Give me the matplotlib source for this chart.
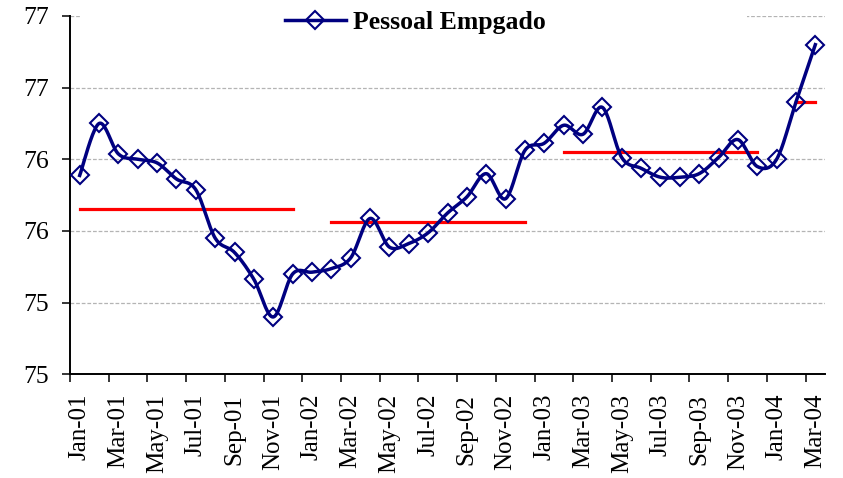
import matplotlib
matplotlib.use('Agg')

import matplotlib.pyplot as plt
from matplotlib.lines import Line2D
from matplotlib.patches import Rectangle
from matplotlib.ticker import FormatStrFormatter
import numpy as np
import pandas as pd

# Pessoal empregado, série mensal Jan-01 a Mar-04
meses = pd.date_range('2001-01-01', periods=39, freq='MS').strftime('%b-%y').tolist()
pessoal = [76.11, 76.40, 76.23, 76.20, 76.18, 76.09, 76.03, 75.76, 75.68, 75.53, 75.32, 75.56,
           75.57, 75.59, 75.65, 75.87, 75.71, 75.73, 75.79, 75.90, 75.99, 76.12, 75.98, 76.25,
           76.29, 76.39, 76.34, 76.49, 76.21, 76.15, 76.10, 76.10, 76.12, 76.21, 76.31, 76.16,
           76.20, 76.52, 76.84]

# médias anuais (segmentos vermelhos)
media_inicio = ['Jan-01', 'Feb-02', 'Feb-03', 'Feb-04']
media_fim = ['Dec-01', 'Dec-02', 'Dec-03', 'Mar-04']
media_valor = [75.92, 75.85, 76.24, 76.52]

y_ticks = [75.0, 75.4, 75.8, 76.2, 76.6, 77.0]

AZUL = '#000080'
VERMELHO = '#ff0000'
FONTE = 'Liberation Serif'

plt.rcParams['font.family'] = FONTE


def suavizar(y, passos=20):
    """Curva suavizada (Bezier tipo Catmull-Rom) passando pelos pontos."""
    y = np.asarray(y, dtype=float)
    x = np.arange(len(y), dtype=float)
    xs, ys = [], []
    n = len(y)
    for i in range(n - 1):
        i0, i3 = max(i - 1, 0), min(i + 2, n - 1)
        p0 = np.array([x[i], y[i]])
        p3 = np.array([x[i + 1], y[i + 1]])
        c1 = p0 + (np.array([x[i + 1], y[i + 1]]) - np.array([x[i0], y[i0]])) / 6.0
        c2 = p3 - (np.array([x[i3], y[i3]]) - np.array([x[i], y[i]])) / 6.0
        t = np.linspace(0, 1, passos, endpoint=(i == n - 2))[:, None]
        pts = ((1 - t) ** 3) * p0 + 3 * ((1 - t) ** 2) * t * c1 + 3 * (1 - t) * t ** 2 * c2 + t ** 3 * p3
        xs.append(pts[:, 0])
        ys.append(pts[:, 1])
    return np.concatenate(xs), np.concatenate(ys)


fig = plt.figure(figsize=(8.43, 4.78), dpi=100, facecolor='white')
ax = fig.add_axes([70 / 843, 1 - 374.3 / 478, 755 / 843, 358.3 / 478])

x = np.arange(len(meses))

# linhas de grade
for v in y_ticks[1:]:
    ax.axhline(v, color='#b4b4b4', lw=0.9, ls=(0, (3, 1.5)), zorder=1)

# médias
for ini, fim, val in zip(media_inicio, media_fim, media_valor):
    a, b = meses.index(ini), meses.index(fim)
    ax.plot([a, b], [val, val], color=VERMELHO, lw=2.3, solid_capstyle='projecting', zorder=3)

# série principal
xs, ys = suavizar(pessoal)
ax.plot(xs, ys, color=AZUL, lw=2.5, zorder=4, solid_joinstyle='round')
ax.plot(x, pessoal, ls='none', marker='D', ms=9.3, mfc='none', mec=AZUL, mew=1.5, zorder=5)

ax.set_xlim(-0.5, len(meses) - 0.5)
ax.set_ylim(75.0, 77.0)

ax.set_yticks(y_ticks)
ax.yaxis.set_major_formatter(FormatStrFormatter('%.0f'))
ax.tick_params(axis='y', direction='out', length=6, width=1.1, pad=9, labelsize=18.5, colors='black')

# marcas entre categorias, rótulos no centro
ax.set_xticks(np.arange(-0.5, len(meses) - 1, 2))
ax.set_xticklabels([])
ax.set_xticks(x[::2], minor=True)
ax.set_xticklabels(meses[::2], minor=True, rotation=90)
ax.tick_params(axis='x', which='major', direction='out', length=6, width=1.1)
ax.tick_params(axis='x', which='minor', length=0, pad=14, labelsize=18)

for s in ['top', 'right']:
    ax.spines[s].set_visible(False)
for s in ['left', 'bottom']:
    ax.spines[s].set_linewidth(1.4)
    ax.spines[s].set_color('black')

# fundo branco da legenda
fig.add_artist(Rectangle((80 / 843, 1 - 38 / 478), 667 / 843, 32 / 478,
                         transform=fig.transFigure, facecolor='white', edgecolor='none', zorder=3))

handle = Line2D([], [], color=AZUL, lw=2.5, marker='D', ms=9.3, mfc='none', mec=AZUL, mew=1.5)
fig.legend([handle], ['Pessoal Empgado'], loc='center', bbox_to_anchor=(415 / 843, 1 - 22 / 478),
           frameon=False, handlelength=2.4, handletextpad=0.25,
           prop={'family': FONTE, 'weight': 'bold', 'size': 18.5})

fig.savefig('out.png', dpi=100)
